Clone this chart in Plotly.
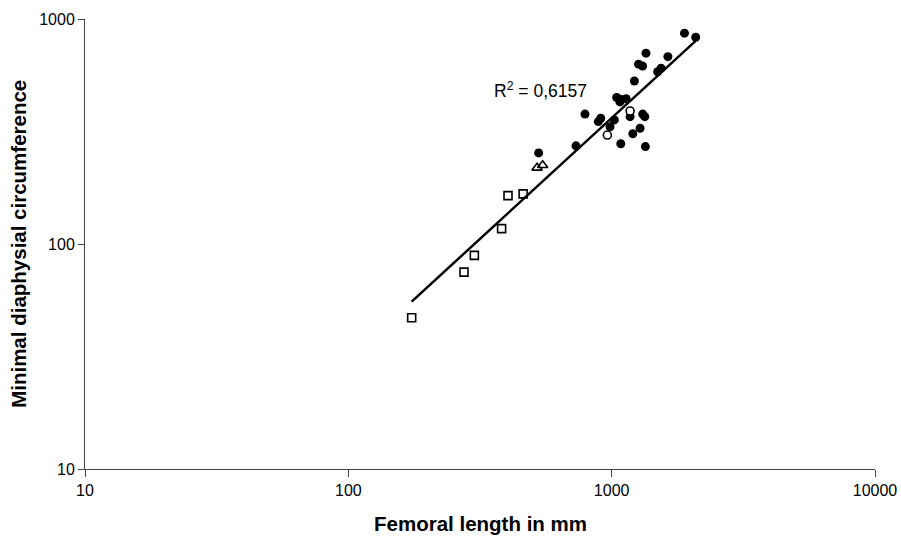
import numpy as np
import plotly.graph_objects as go

# Femoral length (mm) and minimal diaphysial circumference, by group
filled_len = [1890, 2085, 1350, 1635, 1265, 1310, 1540, 1495, 1220, 1045, 1085, 1135,
              1075, 1175, 1312, 1336, 792, 909, 890, 1024, 986, 1282, 1203, 1083,
              1343, 732, 528]
filled_circ = [865, 830, 705, 680, 630, 618, 604, 583, 530, 448, 439, 442,
               428, 368, 378, 368, 378, 362, 350, 356, 332, 327, 309, 279,
               271, 273, 254]

open_len = [1175, 963]
open_circ = [390, 305]

tri_len = [521, 547]
tri_circ = [218, 224]

sq_len = [404, 461, 382, 301, 275, 174]
sq_circ = [164, 167, 117, 89, 75, 47]

x_ticks = [10, 100, 1000, 10000]
y_ticks = [10, 100, 1000]
r2_label = "R<sup>2</sup> = 0,6157"
x_title = "<b>Femoral length in mm</b>"
y_title = "<b>Minimal diaphysial circumference</b>"

# Power trendline fitted on all points (log-log least squares)
all_len = np.array(filled_len + open_len + tri_len + sq_len, dtype=float)
all_circ = np.array(filled_circ + open_circ + tri_circ + sq_circ, dtype=float)
slope, intercept = np.polyfit(np.log10(all_len), np.log10(all_circ), 1)
fit_x = np.array([all_len.min(), all_len.max()])
fit_y = 10 ** (intercept + slope * np.log10(fit_x))

fig = go.Figure()

fig.add_trace(go.Scatter(
    x=fit_x, y=fit_y, mode="lines",
    line=dict(color="black", width=2.5), hoverinfo="skip"))

fig.add_trace(go.Scatter(
    x=sq_len, y=sq_circ, mode="markers",
    marker=dict(symbol="square-open", size=8, color="black", line=dict(width=1.6))))

fig.add_trace(go.Scatter(
    x=tri_len, y=tri_circ, mode="markers",
    marker=dict(symbol="triangle-up-open", size=9, color="black", line=dict(width=1.6))))

fig.add_trace(go.Scatter(
    x=filled_len, y=filled_circ, mode="markers",
    marker=dict(symbol="circle", size=9, color="black", line=dict(width=0))))

fig.add_trace(go.Scatter(
    x=open_len, y=open_circ, mode="markers",
    marker=dict(symbol="circle", size=8, color="white", line=dict(color="black", width=1.6))))

family = "Liberation Sans, Arial, sans-serif"
axis_font = dict(family=family, size=16, color="black")

fig.update_xaxes(
    type="log", range=[1, 4],
    tickvals=x_ticks, ticktext=[str(v) for v in x_ticks],
    ticks="outside", ticklen=7, tickcolor="#444", tickwidth=1,
    showline=True, linecolor="#444", linewidth=1,
    showgrid=False, zeroline=False,
    tickfont=axis_font,
)
fig.update_yaxes(
    type="log", range=[1, 3],
    tickvals=y_ticks, ticktext=[str(v) for v in y_ticks],
    ticks="outside", ticklen=6, tickcolor="#444", tickwidth=1,
    showline=True, linecolor="#444", linewidth=1,
    showgrid=False, zeroline=False,
    tickfont=axis_font,
)

# Axis titles
fig.add_annotation(
    x=0.5, y=-0.122, xref="paper", yref="paper",
    text=x_title, showarrow=False, xanchor="center", yanchor="middle",
    font=dict(family=family, size=20.5, color="black"))
fig.add_annotation(
    x=-0.085, y=0.5, xref="paper", yref="paper",
    text=y_title, showarrow=False, textangle=-90, xanchor="center", yanchor="middle",
    font=dict(family=family, size=20.5, color="black"))

# Goodness-of-fit label
fig.add_annotation(
    x=np.log10(352), y=np.log10(484), xref="x", yref="y",
    text=r2_label, showarrow=False, xanchor="left", yanchor="middle",
    font=dict(family=family, size=17.5, color="black"))

fig.update_layout(
    width=901, height=543,
    margin=dict(l=85, r=26, t=19, b=74, autoexpand=False),
    paper_bgcolor="white", plot_bgcolor="white",
    showlegend=False,
)

fig.write_html("out.html")
